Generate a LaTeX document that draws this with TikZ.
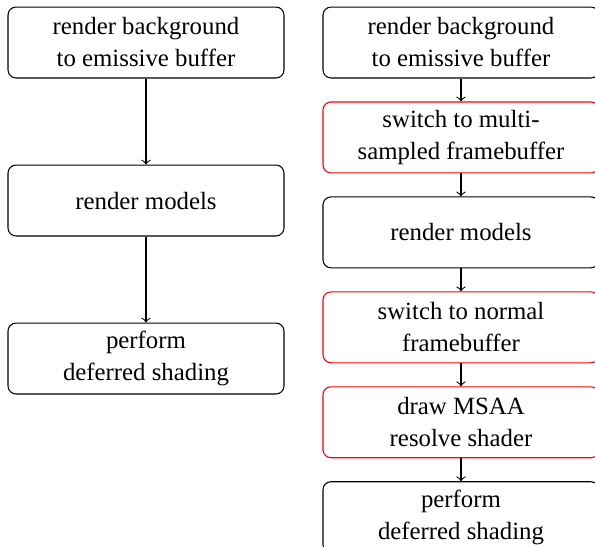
\documentclass[tikz,border=0pt]{standalone}
\usepackage{fontspec}
\setmainfont{Liberation Serif}
\usetikzlibrary{positioning}
\begin{document}
\begin{tikzpicture}[x=0.375pt, y=-0.375pt,
    pass/.style={draw, rounded corners=3pt, align=center, inner sep=1.5pt,
                 font=\fontsize{9.3}{12}\selectfont,
                 minimum width=103.5pt, minimum height=26.6pt},
    msaa/.style={pass, draw=red}]
    \useasboundingbox (0,0) rectangle (595,546);
    % forward path
    \node[pass] (bg) at (146,42.5) {render background\\to emissive buffer};
    \node[pass, below=32.25pt of bg] (models) {render models};
    \node[pass, below=32.25pt of models] (shade) {perform\\deferred shading};
    \draw[->] (bg) -- (models);
    \draw[->] (models) -- (shade);
    % same path with multisampling
    \node[pass] (bgm) at (461,42.5) {render background\\to emissive buffer};
    \node[msaa, below=8.6pt of bgm] (msfb) {switch to multi-\\sampled framebuffer};
    \node[pass, below=8.6pt of msfb] (modelsm) {render models};
    \node[msaa, below=8.6pt of modelsm] (fb) {switch to normal\\framebuffer};
    \node[msaa, below=8.6pt of fb] (resolve) {draw MSAA\\resolve shader};
    \node[pass, below=8.6pt of resolve] (shadem) {perform\\deferred shading};
    \foreach \a/\b in {bgm/msfb, msfb/modelsm, modelsm/fb, fb/resolve, resolve/shadem}
        \draw[->] (\a) -- (\b);
\end{tikzpicture}
\end{document}
